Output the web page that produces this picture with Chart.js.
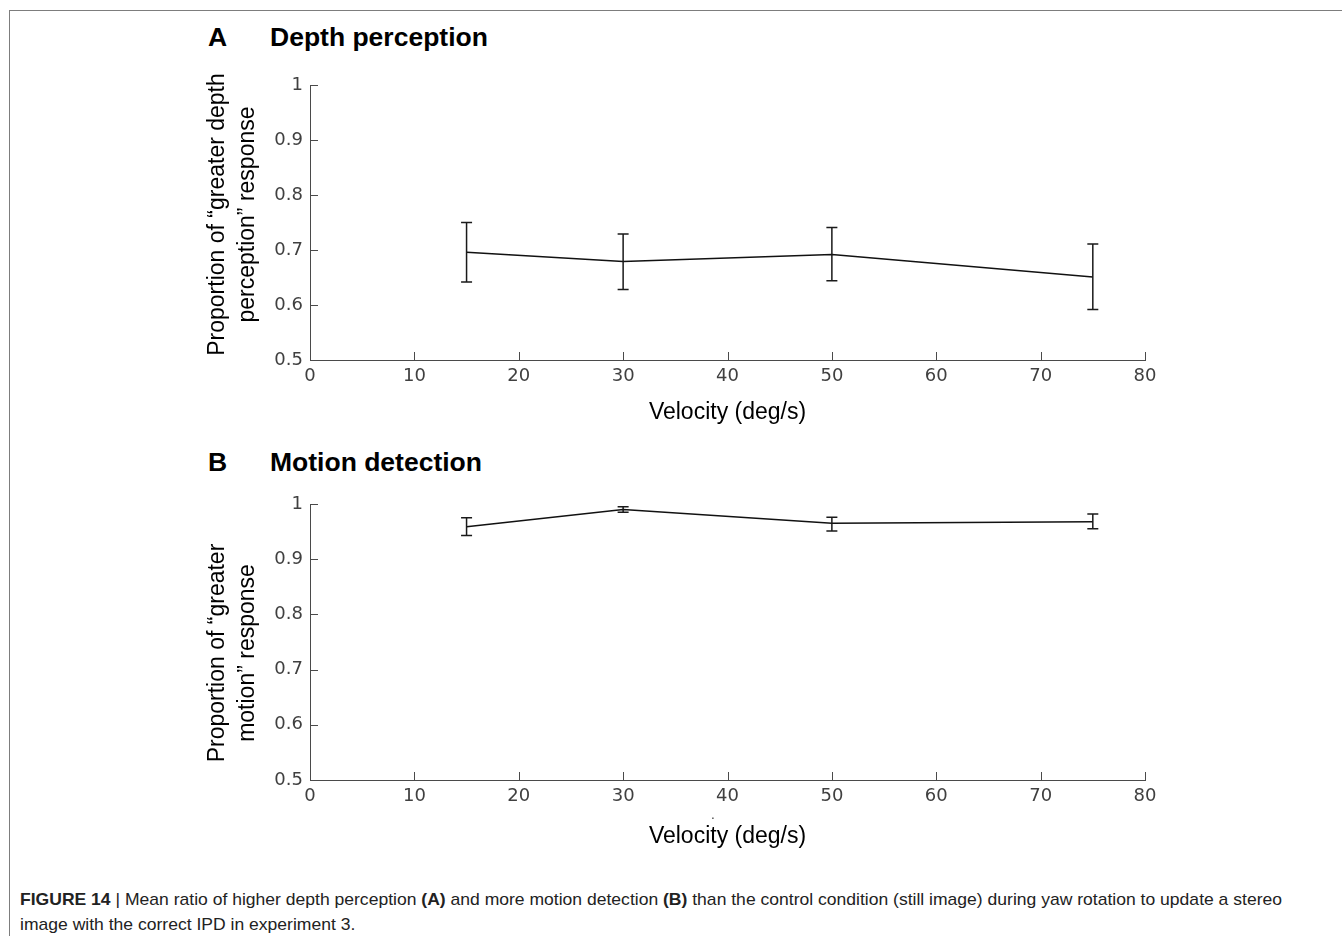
<!DOCTYPE html>
<html>
<head>
<meta charset="utf-8">
<script src="https://cdn.jsdelivr.net/npm/chart.js@4.4.1/dist/chart.umd.min.js"></script>
<style>
  body { margin: 0; background: #fff; width: 1342px; height: 936px; overflow: hidden; position: relative; }
  #frame { position: absolute; left: 9px; top: 10px; width: 1400px; height: 1000px; border-top: 1px solid #7d7d7d; border-left: 1px solid #7d7d7d; }
  canvas { position: absolute; left: 0; }
  .head { position: absolute; font-family: "Liberation Sans", Arial, sans-serif; font-weight: bold; font-size: 26.5px; color: #000; white-space: nowrap; }
  #caption { position: absolute; left: 20px; top: 887px; font-family: "Liberation Sans", Arial, sans-serif; font-size: 17px; line-height: 25px; color: #222; white-space: nowrap; transform-origin: 0 0; }
  #dot { position: absolute; left: 711px; top: 808px; font-family: "DejaVu Sans", sans-serif; font-size: 12px; color: #333; }
</style>
</head>
<body>
<div id="frame"></div>
<div class="head" style="left:208px; top:22px;">A</div>
<div class="head" style="left:270px; top:22px;">Depth perception</div>
<div class="head" style="left:208px; top:447px;">B</div>
<div class="head" style="left:270px; top:447px;">Motion detection</div>
<canvas id="chartA" width="1342" height="440" style="top:0px"></canvas>
<canvas id="chartB" width="1342" height="440" style="top:420px"></canvas>
<div id="dot">.</div>
<div id="caption"><span id="line1"><b>FIGURE 14</b> | Mean ratio of higher depth perception <b>(A)</b> and more motion detection <b>(B)</b> than the control condition (still image) during yaw rotation to update a stereo</span><br>image with the correct IPD in experiment 3.</div>
<script>
// velocities shared by both panels
var velocity = [15, 30, 50, 75];

// panel A - depth perception
var depthMean  = [0.696, 0.679, 0.692, 0.651];
var depthUpper = [0.750, 0.729, 0.741, 0.711];
var depthLower = [0.642, 0.628, 0.644, 0.592];

// panel B - motion detection
var motionMean  = [0.959, 0.990, 0.965, 0.968];
var motionUpper = [0.975, 0.995, 0.976, 0.982];
var motionLower = [0.943, 0.985, 0.951, 0.955];

var xTicks = [0, 10, 20, 30, 40, 50, 60, 70, 80];
var yTicks = [0.5, 0.6, 0.7, 0.8, 0.9, 1];

var axisColor = '#4a4a4a';
var tickFont = { family: 'DejaVu Sans', size: 18 };

// error bars, inward tick marks and the two-line y title
var matlabBits = {
  id: 'matlabBits',
  afterDatasetsDraw: function(chart) {
    var ctx = chart.ctx, xs = chart.scales.x, ys = chart.scales.y;
    var err = chart.options.plugins.matlabBits;
    ctx.save();
    ctx.strokeStyle = '#1a1a1a';
    ctx.lineWidth = 1.5;
    for (var i = 0; i < velocity.length; i++) {
      var px = xs.getPixelForValue(velocity[i]);
      var top = ys.getPixelForValue(err.upper[i]);
      var bot = ys.getPixelForValue(err.lower[i]);
      ctx.beginPath();
      ctx.moveTo(px, top); ctx.lineTo(px, bot);
      ctx.moveTo(px - 5.5, top); ctx.lineTo(px + 5.5, top);
      ctx.moveTo(px - 5.5, bot); ctx.lineTo(px + 5.5, bot);
      ctx.stroke();
    }
    ctx.restore();
  },
  afterDraw: function(chart) {
    var ctx = chart.ctx, xs = chart.scales.x, ys = chart.scales.y, a = chart.chartArea;
    var opt = chart.options.plugins.matlabBits;
    ctx.save();
    ctx.strokeStyle = axisColor;
    ctx.lineWidth = 1;
    ctx.beginPath();
    xTicks.forEach(function(v) {
      var p = Math.round(xs.getPixelForValue(v)) + 0.5;
      ctx.moveTo(p, a.bottom); ctx.lineTo(p, a.bottom - 8);
    });
    yTicks.forEach(function(v) {
      var p = Math.round(ys.getPixelForValue(v)) + 0.5;
      ctx.moveTo(a.left, p); ctx.lineTo(a.left + 8, p);
    });
    ctx.stroke();

    // y title
    ctx.fillStyle = '#000';
    ctx.font = '23px "Liberation Sans", Arial, sans-serif';
    ctx.textAlign = 'center';
    ctx.textBaseline = 'middle';
    var cy = (a.top + a.bottom) / 2 + opt.titleShift;
    opt.title.forEach(function(line, k) {
      ctx.save();
      ctx.translate(ys.left + 15 + k * 30, cy);
      ctx.rotate(-Math.PI / 2);
      ctx.fillText(line, 0, 0);
      ctx.restore();
    });
    ctx.restore();
  }
};

function makePanel(id, mean, upper, lower, yTitle, shift, pad, xHeight) {
  var pts = velocity.map(function(v, i) { return { x: v, y: mean[i] }; });
  return new Chart(document.getElementById(id), {
    type: 'line',
    data: {
      datasets: [{
        data: pts,
        borderColor: '#111',
        borderWidth: 1.5,
        pointRadius: 0,
        tension: 0,
        fill: false
      }]
    },
    options: {
      responsive: false,
      animation: false,
      devicePixelRatio: 1,
      layout: { padding: pad },
      plugins: {
        legend: { display: false },
        tooltip: { enabled: false },
        matlabBits: { upper: upper, lower: lower, title: yTitle, titleShift: shift }
      },
      scales: {
        x: {
          type: 'linear',
          min: 0, max: 80,
          afterBuildTicks: function(s) { s.ticks = xTicks.map(function(v) { return { value: v }; }); },
          afterFit: function(s) { s.height = xHeight; },
          grid: { display: false, drawTicks: false },
          border: { display: true, color: axisColor, width: 1 },
          ticks: { color: '#404040', font: tickFont, padding: 6, maxRotation: 0 },
          title: {
            display: true, text: 'Velocity (deg/s)', color: '#000',
            font: { family: 'Liberation Sans', size: 23, lineHeight: 1.2 },
            padding: { top: 0, bottom: 0 }
          }
        },
        y: {
          min: 0.5, max: 1,
          afterBuildTicks: function(s) { s.ticks = yTicks.map(function(v) { return { value: v }; }); },
          afterFit: function(s) { s.width = 107; },
          grid: { display: false, drawTicks: false },
          border: { display: true, color: axisColor, width: 1 },
          ticks: {
            color: '#404040', font: tickFont, padding: 7,
            callback: function(v) { return String(Math.round(v * 10) / 10); }
          }
        }
      }
    },
    plugins: [matlabBits]
  });
}

makePanel('chartA', depthMean, depthUpper, depthLower,
  ['Proportion of \u201cgreater depth', 'perception\u201d response'], -8,
  { left: 203, right: 197, top: 85, bottom: 14 }, 66);

makePanel('chartB', motionMean, motionUpper, motionLower,
  ['Proportion of \u201cgreater', 'motion\u201d response'], 11,
  { left: 203, right: 197, top: 84, bottom: 10 }, 70);

// squeeze caption so line 1 spans the same width as in the figure
var cap = document.getElementById('caption');
var w = document.getElementById('line1').getBoundingClientRect().width;
cap.style.transform = 'scaleX(' + (1262 / w) + ')';
</script>
</body>
</html>
